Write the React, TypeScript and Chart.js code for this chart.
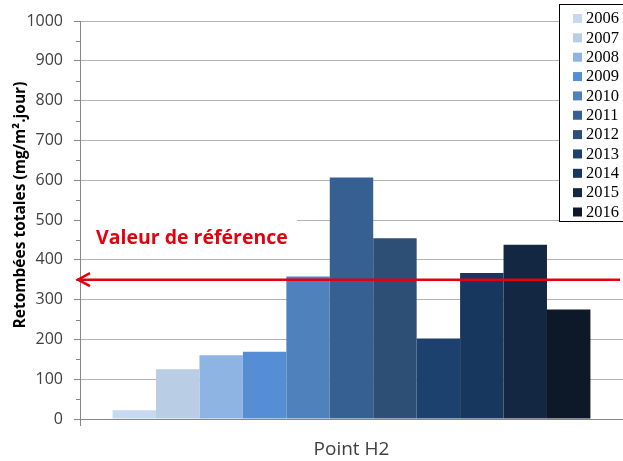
import React, { useEffect, useRef } from 'react';
import { Chart, registerables } from 'chart.js';

Chart.register(...registerables);

// ---- Data ----
const categories: string[] = ['Point H2'];
const years: string[] = ['2006', '2007', '2008', '2009', '2010', '2011', '2012', '2013', '2014', '2015', '2016'];
const values: number[] = [22, 125, 160, 169, 358, 607, 454, 202, 367, 438, 275];
const colors: string[] = [
  '#c6d9f1', '#b9cde5', '#8eb4e3', '#558ed5', '#4f81bd', '#376092',
  '#2d4e75', '#1c416e', '#17375e', '#132742', '#0d1828',
];
const yMin = 0;
const yMax = 1000;
const yStep = 100;
const yMinorStep = 50;
const referenceValue = 350;
const referenceLabel = 'Valeur de référence';
const yTitle = 'Retombées totales (mg/m².jour)';

const SANS = "'Open Sans', 'DejaVu Sans', sans-serif";
const RED = '#e3000f';

const overlayPlugin = {
  id: 'overlay',
  afterDatasetsDraw(chart: any) {
    const ctx: CanvasRenderingContext2D = chart.ctx;
    const area = chart.chartArea;
    const y = chart.scales.y;
    ctx.save();

    // minor tick marks on the value axis
    ctx.strokeStyle = '#868686';
    ctx.lineWidth = 1;
    for (let v = yMin + yMinorStep; v < yMax; v += yStep) {
      const py = Math.round(y.getPixelForValue(v)) + 0.5;
      ctx.beginPath();
      ctx.moveTo(area.left - 4, py);
      ctx.lineTo(area.left, py);
      ctx.stroke();
    }

    // label box for reference value
    const p500 = y.getPixelForValue(500);
    ctx.fillStyle = '#ffffff';
    ctx.fillRect(area.left + 1, p500 - 7, 216, 39);
    ctx.fillStyle = RED;
    ctx.font = `bold 19.5px ${SANS}`;
    ctx.textBaseline = 'middle';
    ctx.textAlign = 'left';
    ctx.fillText(referenceLabel, area.left + 16, p500 + 18);

    // reference line with arrow
    const ry = y.getPixelForValue(referenceValue);
    const tipX = area.left - 3;
    ctx.strokeStyle = RED;
    ctx.lineWidth = 2.5;
    ctx.beginPath();
    ctx.moveTo(tipX, ry);
    ctx.lineTo(area.right - 3, ry);
    ctx.stroke();
    ctx.beginPath();
    ctx.moveTo(tipX + 13, ry - 6.5);
    ctx.lineTo(tipX + 1, ry);
    ctx.lineTo(tipX + 13, ry + 6.5);
    ctx.stroke();

    // y-axis title
    ctx.save();
    ctx.translate(21, 205);
    ctx.rotate(-Math.PI / 2);
    ctx.fillStyle = '#000000';
    ctx.font = `bold 15.5px ${SANS}`;
    ctx.textAlign = 'center';
    ctx.textBaseline = 'middle';
    ctx.fillText(yTitle, 0, 0);
    ctx.restore();

    // legend
    const lx = 559.5;
    const ly = 4.5;
    ctx.fillStyle = '#ffffff';
    ctx.fillRect(lx, ly, 80, 217);
    ctx.strokeStyle = '#000000';
    ctx.lineWidth = 1;
    ctx.strokeRect(lx, ly, 80, 217);
    ctx.font = "16.5px 'Liberation Serif', 'DejaVu Serif', serif";
    ctx.textBaseline = 'middle';
    chart.data.datasets.forEach((ds: any, i: number) => {
      const cy = 18.5 + i * 19.35;
      ctx.fillStyle = ds.backgroundColor;
      ctx.fillRect(573, cy - 4.5, 9, 9);
      ctx.fillStyle = '#000000';
      ctx.fillText(ds.label, 586, cy + 0.5);
    });

    ctx.restore();
  },
};

export default function App() {
  const canvasRef = useRef<HTMLCanvasElement | null>(null);

  useEffect(() => {
    const canvas = canvasRef.current;
    if (!canvas) return;
    const chart = new Chart(canvas, {
      type: 'bar',
      data: {
        labels: categories,
        datasets: years.map((yr, i) => ({
          label: yr,
          data: [values[i]],
          backgroundColor: colors[i],
          borderWidth: 0,
          categoryPercentage: 11 / 12.5,
          barPercentage: 1,
        })),
      },
      options: {
        responsive: false,
        animation: false,
        devicePixelRatio: 1,
        layout: { padding: { top: 21, right: 0, bottom: 0, left: 0 } },
        plugins: {
          legend: { display: false },
          tooltip: { enabled: false },
        },
        scales: {
          x: {
            type: 'category',
            offset: true,
            grid: {
              offset: true,
              drawOnChartArea: false,
              drawTicks: true,
              tickLength: 7,
              tickColor: '#868686',
              color: '#868686',
            },
            border: { display: true, color: '#868686', width: 1 },
            ticks: {
              color: '#404040',
              font: { family: SANS, size: 19 },
              padding: 12,
            },
            afterFit(scale: any) {
              scale.height = 42;
            },
          },
          y: {
            type: 'linear',
            min: yMin,
            max: yMax,
            grid: {
              color: '#b3b3b3',
              tickColor: '#868686',
              tickLength: 6,
              drawTicks: true,
            },
            border: { display: true, color: '#868686', width: 1 },
            ticks: {
              stepSize: yStep,
              color: '#404040',
              font: { family: SANS, size: 16 },
              padding: 11,
              callback: (v: any) => String(v),
            },
            afterFit(scale: any) {
              scale.width = 80;
            },
          },
        },
      },
      plugins: [overlayPlugin],
    });
    return () => chart.destroy();
  }, []);

  return (
    <div style={{ position: 'fixed', left: 0, top: 0, width: 623, height: 461, background: '#ffffff' }}>
      <canvas ref={canvasRef} width={623} height={461} />
    </div>
  );
}
